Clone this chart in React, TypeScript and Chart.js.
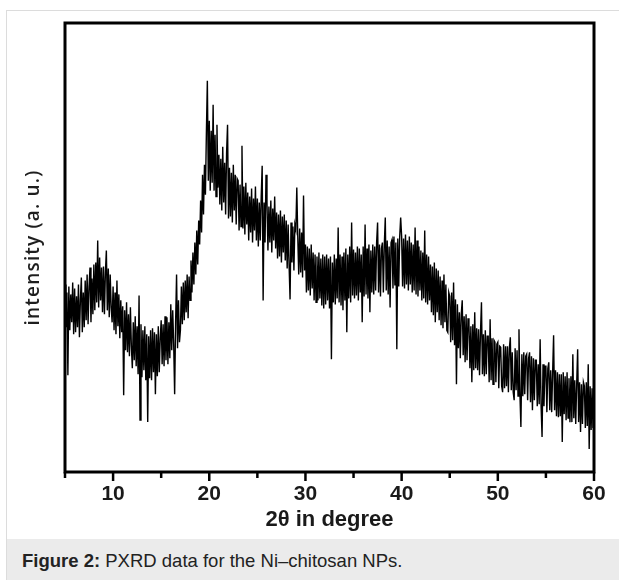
import React, { useEffect, useRef } from 'react';
import { Chart, registerables } from 'chart.js';

Chart.register(...registerables);

// 2θ sampling of the scan
const START_DEG = 5;
const STEP_DEG = 0.1;
const X_MIN = 5;
const X_MAX = 60;
const X_STEP = 5; // tick spacing (labels on every 10°)

const X_TITLE = '2θ in degree';
const Y_TITLE = 'intensity (a. u.)';

// Intensity (a.u.), one row per degree, 0.1° apart
const intensity5to15 = [
  188, 145, 180, 97, 186, 142, 178, 150, 190, 138,
  184, 140, 176, 145, 188, 135, 172, 195, 140, 180,
  145, 192, 152, 198, 148, 186, 205, 150, 194, 158,
  208, 162, 210, 170, 232, 165, 215, 172, 205, 160,
  206, 158, 200, 222, 162, 204, 155, 198, 165, 150,
  186, 142, 180, 138, 192, 146, 178, 134, 172, 140,
  166, 77, 162, 122, 170, 120, 158, 116, 165, 126,
  104, 150, 112, 156, 106, 146, 98, 177, 52, 148,
  95, 142, 102, 146, 92, 138, 50, 136, 94, 142,
  92, 144, 100, 140, 78, 138, 96, 146, 100, 134,
];

const intensity15to25 = [
  152, 108, 148, 106, 156, 112, 155, 108, 150, 114,
  168, 122, 162, 128, 78, 150, 198, 124, 172, 130,
  142, 186, 148, 190, 152, 192, 160, 198, 154, 196,
  172, 212, 180, 220, 188, 230, 198, 242, 208, 252,
  228, 272, 240, 298, 258, 308, 278, 340, 392, 292,
  352, 282, 342, 290, 368, 282, 338, 276, 348, 285,
  318, 268, 314, 262, 326, 270, 310, 258, 320, 348,
  254, 305, 256, 300, 250, 308, 262, 298, 248, 294,
  292, 242, 288, 246, 327, 244, 286, 238, 290, 248,
  280, 232, 276, 240, 284, 230, 274, 242, 286, 232,
];

const intensity25to35 = [
  274, 226, 270, 232, 276, 307, 172, 270, 230, 298,
  270, 222, 266, 230, 272, 220, 264, 232, 276, 224,
  260, 214, 258, 216, 262, 210, 256, 220, 258, 212,
  252, 204, 248, 207, 173, 250, 210, 246, 202, 248,
  243, 285, 236, 198, 244, 200, 240, 195, 277, 202,
  228, 180, 226, 182, 224, 177, 228, 184, 220, 172,
  218, 170, 216, 172, 220, 174, 214, 167, 218, 164,
  216, 168, 218, 172, 214, 164, 216, 113, 210, 170,
  218, 168, 214, 174, 245, 170, 218, 167, 216, 162,
  220, 172, 224, 140, 218, 174, 226, 170, 250, 177,
];

const intensity35to45 = [
  223, 174, 220, 177, 226, 172, 224, 180, 218, 150,
  226, 176, 248, 178, 224, 174, 228, 160, 222, 180,
  228, 178, 226, 182, 230, 250, 180, 228, 176, 224,
  230, 180, 228, 255, 182, 232, 178, 226, 165, 230,
  233, 184, 236, 187, 230, 123, 234, 186, 236, 255,
  236, 186, 234, 184, 238, 188, 232, 182, 236, 188,
  230, 180, 228, 182, 245, 178, 232, 176, 226, 182,
  222, 172, 220, 174, 242, 170, 218, 168, 216, 172,
  208, 160, 206, 157, 210, 150, 204, 160, 202, 152,
  196, 147, 192, 144, 198, 150, 188, 142, 140, 180,
];

const intensity45to60 = [
  176, 130, 180, 132, 190, 127, 173, 88, 168, 124,
  160, 114, 158, 172, 117, 156, 110, 158, 112, 154,
  148, 104, 146, 90, 148, 102, 160, 104, 144, 102,
  143, 97, 140, 170, 98, 138, 96, 142, 98, 136,
  136, 90, 153, 92, 134, 88, 132, 130, 90, 128,
  130, 84, 126, 125, 86, 80, 128, 84, 126, 86,
  126, 80, 124, 135, 82, 120, 80, 72, 124, 82,
  122, 76, 143, 78, 45, 118, 76, 120, 78, 116,
  118, 72, 114, 120, 70, 116, 62, 114, 72, 112,
  112, 66, 108, 68, 133, 66, 35, 108, 66, 106,
  106, 60, 104, 110, 62, 102, 60, 100, 137, 62,
  102, 56, 100, 55, 98, 56, 98, 30, 100, 58,
  96, 52, 100, 54, 94, 50, 96, 50, 118, 54,
  92, 48, 88, 123, 50, 90, 40, 88, 48, 90,
  86, 44, 90, 46, 108, 23, 86, 42, 84, 44,
  64,
];

const Y_MIN = 0;
const Y_MAX = 450;

const framePlugin = {
  id: 'pxrdFrame',
  afterDraw(chart: any) {
    const { ctx, chartArea: a, scales } = chart;
    const xs = scales.x;
    ctx.save();
    ctx.strokeStyle = '#000';
    ctx.lineWidth = 3;
    ctx.strokeRect(a.left, a.top, a.right - a.left, a.bottom - a.top);
    ctx.lineWidth = 2.5;
    xs.ticks.forEach((t: any) => {
      const px = xs.getPixelForValue(t.value);
      const major = t.value % 10 === 0;
      ctx.beginPath();
      ctx.moveTo(px, a.bottom);
      ctx.lineTo(px, a.bottom + (major ? 9 : 6));
      ctx.stroke();
    });
    ctx.translate(a.left - 31, (a.top + a.bottom) / 2);
    ctx.rotate(-Math.PI / 2);
    ctx.font = "600 19px 'Open Sans', Lato, sans-serif";
    try { (ctx as any).letterSpacing = '1.2px'; } catch (e) {}
    ctx.fillStyle = '#1e1e1e';
    ctx.textAlign = 'center';
    ctx.textBaseline = 'middle';
    ctx.fillText(Y_TITLE, 0, 0);
    ctx.restore();
  },
};

export default function App() {
  const canvasRef = useRef<HTMLCanvasElement | null>(null);

  useEffect(() => {
    const canvas = canvasRef.current;
    if (!canvas) return;
    const values = [
      ...intensity5to15,
      ...intensity15to25,
      ...intensity25to35,
      ...intensity35to45,
      ...intensity45to60,
    ];
    const points = values.map((v, i) => ({
      x: Math.round((START_DEG + i * STEP_DEG) * 10) / 10,
      y: v,
    }));
    const chart = new Chart(canvas, {
      type: 'line',
      data: {
        datasets: [
          {
            data: points,
            borderColor: '#000',
            borderWidth: 1.4,
            pointRadius: 0,
            tension: 0,
            fill: false,
          },
        ],
      },
      options: {
        animation: false,
        responsive: false,
        devicePixelRatio: 1,
        layout: { padding: { left: 65, right: 25, top: 23, bottom: 0 } },
        plugins: {
          legend: { display: false },
          tooltip: { enabled: false },
        },
        scales: {
          x: {
            type: 'linear',
            min: X_MIN,
            max: X_MAX,
            grid: { display: false },
            border: { display: false },
            ticks: {
              stepSize: X_STEP,
              autoSkip: false,
              maxRotation: 0,
              padding: 2,
              color: '#1a1a1a',
              font: { family: "'Liberation Sans', Arial, sans-serif", size: 21, weight: 'bold' },
              callback: (v: any) => (Number(v) % 10 === 0 ? String(v) : ''),
            },
            title: {
              display: true,
              text: X_TITLE,
              color: '#1a1a1a',
              font: { family: "'Liberation Sans', Arial, sans-serif", size: 22, weight: 'bold' },
              padding: { top: 0, bottom: 6 },
            },
            afterFit: (scale: any) => {
              scale.height = 67;
            },
          },
          y: {
            display: false,
            min: Y_MIN,
            max: Y_MAX,
          },
        },
      },
      plugins: [framePlugin],
    });
    return () => chart.destroy();
  }, []);

  return (
    <div
      style={{
        position: 'absolute',
        left: 0,
        top: 0,
        width: 619,
        height: 580,
        background: '#fff',
        overflow: 'hidden',
      }}
    >
      <div
        style={{
          position: 'absolute',
          left: 6,
          top: 10,
          width: 613,
          height: 570,
          borderLeft: '1px solid #dcdcdc',
          borderTop: '1px solid #dcdcdc',
        }}
      />
      <canvas
        ref={canvasRef}
        width={619}
        height={539}
        style={{ position: 'absolute', left: 0, top: 0, width: 619, height: 539 }}
      />
      <div
        style={{
          position: 'absolute',
          left: 7,
          top: 539,
          width: 612,
          height: 41,
          background: '#ebebeb',
        }}
      />
      <div
        style={{
          position: 'absolute',
          left: 22,
          top: 550,
          fontFamily: "'Liberation Sans', Arial, sans-serif",
          fontSize: 18.5,
          lineHeight: '22px',
          color: '#222',
          whiteSpace: 'nowrap',
        }}
      >
        <b>Figure 2:</b> PXRD data for the Ni–chitosan NPs.
      </div>
    </div>
  );
}
